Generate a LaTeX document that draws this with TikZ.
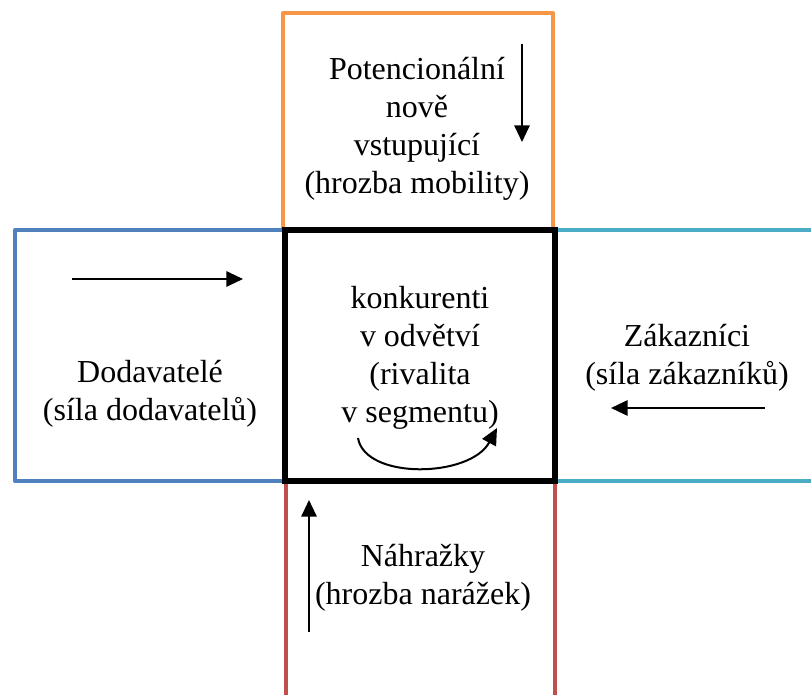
\documentclass[tikz,border=0pt]{standalone}
\usepackage{fontspec}
\setmainfont{Liberation Serif}
\usetikzlibrary{arrows.meta}
\definecolor{orangeline}{RGB}{247,150,70}
\definecolor{blueline}{RGB}{79,129,189}
\definecolor{cyanline}{RGB}{75,172,198}
\definecolor{redline}{RGB}{192,80,77}
\tikzset{
  label text/.style={align=center, font=\fontsize{24}{28.5}\selectfont},
  force/.style={line width=1.5pt, -{Triangle[length=12.5pt,width=11.5pt]}},
  side/.style={line width=3pt, line join=round},
}
\begin{document}
\begin{tikzpicture}[x=0.75pt, y=-0.75pt]
\useasboundingbox (0,0) rectangle (811,695);
% the four outer fields
\draw[side, orangeline] (283,230) -- (283,13) -- (553,13) -- (553,230);
\draw[side, blueline] (283,230) -- (15,230) -- (15,481) -- (283,481);
\draw[side, cyanline] (555,230) -- (811,230);
\draw[side, cyanline] (555,481) -- (811,481);
\draw[side, redline] (286,481) -- (286,695);
\draw[side, redline] (555,481) -- (555,695);
% the middle field
\draw[line width=3.8pt, line join=miter] (285,230) rectangle (555,481);
\node[label text] (entrants) at (417,129) {Potencionální\\nově\\vstupující\\(hrozba mobility)};
\node[label text] (suppliers) at (150,394) {Dodavatelé\\(síla dodavatelů)};
\node[label text] (buyers) at (687,358) {Zákazníci\\(síla zákazníků)};
\node[label text] (substitutes) at (423,578) {Náhražky\\(hrozba narážek)};
\node[label text] (rivals) at (420,358) {konkurenti\\v odvětví\\(rivalita\\v segmentu)};
% arrows
\coordinate (e1) at (522,44);  \coordinate (e2) at (522,142);
\coordinate (s1) at (72,279);  \coordinate (s2) at (243,279);
\coordinate (b1) at (765,408); \coordinate (b2) at (611,408);
\coordinate (n1) at (309,632); \coordinate (n2) at (309,500);
\coordinate (r1) at (358,438); \coordinate (r2) at (497,428);
\draw[force] (e1) -- (e2);
\draw[force] (s1) -- (s2);
\draw[force] (b1) -- (b2);
\draw[force] (n1) -- (n2);
\draw[force] (r1) .. controls (365,480) and (470,478) .. (r2);
\end{tikzpicture}
\end{document}
